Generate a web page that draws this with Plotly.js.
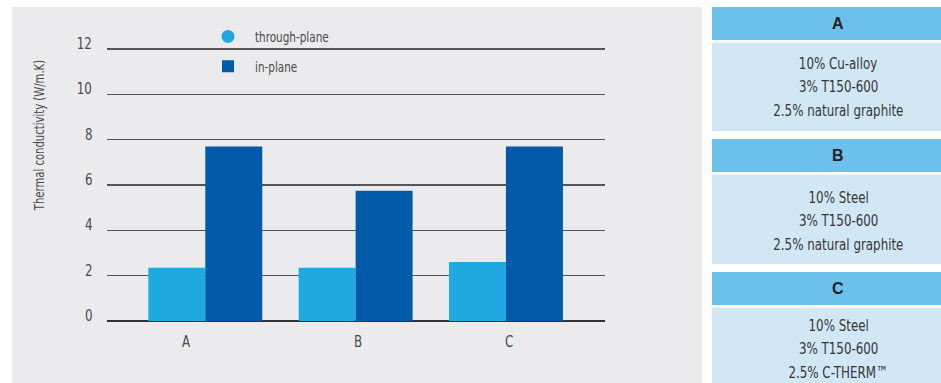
<!DOCTYPE html>
<html>
<head>
<meta charset="utf-8">
<script src="https://cdn.plot.ly/plotly-3.0.1.min.js"></script>
<style>
  html, body { margin: 0; padding: 0; background: #ffffff; }
  #chart { width: 941px; height: 383px; }
  /* condensed look for the narrow labels */
  #chart text.annotation-text.narrow,
  #chart text.legendtext {
    transform-box: fill-box;
    transform: scaleX(0.8);
  }
  #chart text.annotation-text.narrow { transform-origin: center center; }
  #chart text.annotation-text.narrow[text-anchor="end"] { transform-origin: right center; }
  #chart text.legendtext { transform-origin: left center; }
</style>
</head>
<body>
<div id="chart"></div>
<script>
// Thermal conductivity of three filled compounds
const categories = ['A', 'B', 'C'];
const seriesNames = ['through-plane', 'in-plane'];
const throughPlane = [2.35, 2.35, 2.6];
const inPlane = [7.7, 5.75, 7.7];
const yTicks = [0, 2, 4, 6, 8, 10, 12];
const yTitle = 'Thermal conductivity (W/m.K)';

// Composition of each compound, shown in the side panels
const panelTitles = ['A', 'B', 'C'];
const panelLines = [
  ['10% Cu-alloy', '3% T150-600', '2.5% natural graphite'],
  ['10% Steel', '3% T150-600', '2.5% natural graphite'],
  ['10% Steel', '3% T150-600', '2.5% C-THERM\u2122']
];

const W = 941, H = 383;
const px = x => x / W;
const py = y => 1 - y / H;

const NARROW = '"DejaVu Sans Condensed", "DejaVu Sans", sans-serif';
const TXT = '#4a4a4a';
const LIGHT = '#1ea9e1';
const DARK = '#005aaa';

// vertical scale: 0 sits at y=321px, 12 at y=49px
const Y_MAX = 12.2;
const unitPx = (321 - 49) / 12;
const plotTopPx = 321 - Y_MAX * unitPx;

const traces = [
  { type: 'bar', x: categories, y: throughPlane, name: seriesNames[0],
    marker: { color: LIGHT }, showlegend: false, hoverinfo: 'x+y' },
  { type: 'bar', x: categories, y: inPlane, name: seriesNames[1],
    marker: { color: DARK }, showlegend: false, hoverinfo: 'x+y' },
  // legend entries: round marker for through-plane, square for in-plane
  { type: 'scatter', mode: 'markers', x: [null], y: [null], name: seriesNames[0],
    legendgroup: 'g1', marker: { color: LIGHT, symbol: 'circle', size: 13 } },
  { type: 'scatter', mode: 'markers', x: [null], y: [null], name: seriesNames[1],
    legendgroup: 'g2', marker: { color: DARK, symbol: 'square', size: 12 } }
];

const shapes = [];
const annotations = [];
const narrowIdx = [];   // annotations that get the condensed treatment

function addNarrow(a) {
  narrowIdx.push(annotations.length);
  annotations.push(a);
}

// grey backdrop behind the chart
shapes.push({ type: 'rect', xref: 'paper', yref: 'paper', layer: 'below',
  x0: px(12), x1: px(702), y0: py(7), y1: py(383),
  fillcolor: '#ebebed', line: { width: 0 } });

// value labels on the y axis, sitting just above their gridlines
yTicks.forEach(v => {
  addNarrow({ xref: 'paper', yref: 'y', x: px(94), y: v, yshift: 5.5,
    text: String(v), showarrow: false, xanchor: 'right', align: 'right', yanchor: 'middle',
    font: { family: NARROW, size: 16.5, color: TXT } });
});

// category labels under the groups
const labelNudge = [-0.128, 0.013, 0.02];
categories.forEach((c, i) => {
  addNarrow({ xref: 'x', yref: 'paper', x: i + labelNudge[i], y: py(341.5),
    text: c, showarrow: false, xanchor: 'center', yanchor: 'middle',
    font: { family: NARROW, size: 16.5, color: TXT } });
});

// y-axis title
addNarrow({ xref: 'paper', yref: 'paper', x: px(39), y: py(136),
  text: yTitle, textangle: -90, showarrow: false, xanchor: 'center', yanchor: 'middle',
  font: { family: NARROW, size: 14, color: TXT } });

// side panels
const panelTop = [7, 139, 272];
const panelBottom = [131, 264, 383];
const panelTextTop = [63, 197, 325];
panelTitles.forEach((t, i) => {
  const top = panelTop[i];
  shapes.push({ type: 'rect', xref: 'paper', yref: 'paper',
    x0: px(712), x1: px(941), y0: py(top), y1: py(top + 33),
    fillcolor: '#6bc1eb', line: { width: 0 } });
  shapes.push({ type: 'rect', xref: 'paper', yref: 'paper',
    x0: px(712), x1: px(941), y0: py(top + 35.5), y1: py(panelBottom[i]),
    fillcolor: '#d2e7f5', line: { width: 0 } });
  annotations.push({ xref: 'paper', yref: 'paper', x: px(838), y: py(top + 16.5),
    text: '<b>' + t + '</b>', showarrow: false, xanchor: 'center', yanchor: 'middle',
    font: { family: 'Liberation Sans, Arial, sans-serif', size: 16, color: '#222222' } });
  panelLines[i].forEach((line, k) => {
    addNarrow({ xref: 'paper', yref: 'paper', x: px(838), y: py(panelTextTop[i] + k * 23.5),
      text: line, showarrow: false, xanchor: 'center', yanchor: 'middle', borderpad: 0,
      font: { family: NARROW, size: 16.5, color: '#363636' } });
  });
});

const layout = {
  width: W, height: H,
  margin: { l: 0, r: 0, t: 0, b: 0, pad: 0 },
  paper_bgcolor: '#ffffff',
  plot_bgcolor: 'rgba(0,0,0,0)',
  barmode: 'group',
  bargap: 0.242,
  bargroupgap: 0,
  showlegend: true,
  legend: {
    x: px(201), y: py(20.5), xanchor: 'left', yanchor: 'top',
    bgcolor: 'rgba(0,0,0,0)', borderwidth: 0,
    itemwidth: 44, tracegroupgap: 8, itemsizing: 'trace',
    font: { family: NARROW, size: 14.5, color: TXT }
  },
  xaxis: {
    type: 'category',
    domain: [px(107), px(605)],
    range: [-0.654, 2.659],
    showticklabels: false, ticks: '', showgrid: false, zeroline: false, showline: false,
    fixedrange: true
  },
  yaxis: {
    domain: [py(321), py(plotTopPx)],
    range: [0, Y_MAX],
    tickvals: yTicks,
    ticks: '',
    showticklabels: false,
    showgrid: true, gridcolor: '#555555', gridwidth: 1.5,
    zeroline: true, zerolinecolor: '#333333', zerolinewidth: 1.6,
    showline: false,
    fixedrange: true
  },
  shapes: shapes,
  annotations: annotations
};

function markNarrow() {
  const groups = document.querySelectorAll('#chart g.annotation');
  groups.forEach(g => {
    const idx = +g.getAttribute('data-index');
    const t = g.querySelector('text.annotation-text');
    if (t && narrowIdx.indexOf(idx) !== -1) t.classList.add('narrow');
  });
}

Plotly.newPlot('chart', traces, layout, { displayModeBar: false, staticPlot: true })
  .then(markNarrow);
</script>
</body>
</html>
